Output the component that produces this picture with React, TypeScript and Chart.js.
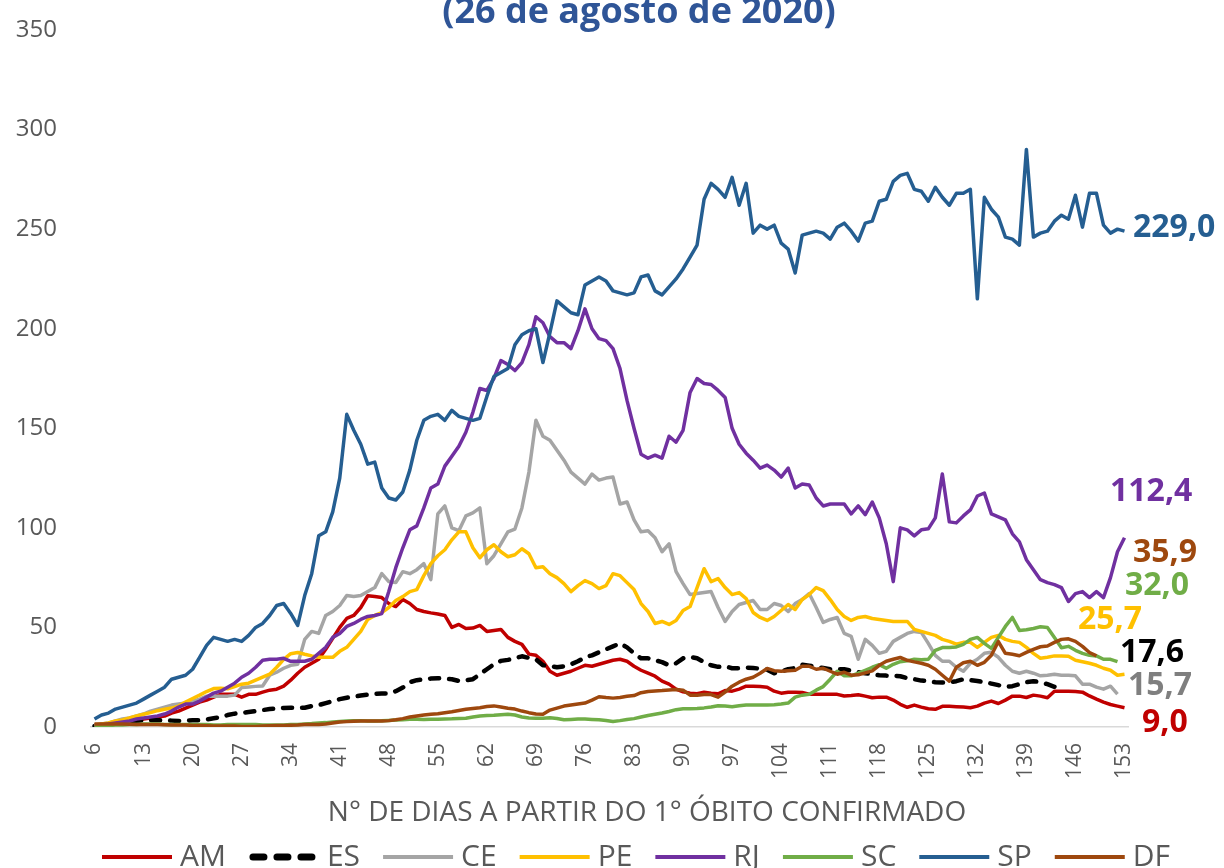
import React, { useEffect, useRef } from "react";
import { Chart, registerables } from "chart.js";

Chart.register(...registerables);

const FIRST_DAY = 6;
const LAST_DAY = 153;
const TICK_STEP = 7;
const days: string[] = [];
for (let d = FIRST_DAY; d <= LAST_DAY; d++) days.push(String(d));

const Y_MIN = 0;
const Y_MAX = 350;
const Y_STEP = 50;

const AM = [0.5, 1, 1.5, 2, 2.5, 3, 3.5, 4, 4.5, 5, 5.5, 7, 8, 9.5, 11, 12.5, 13.5, 15, 16.4, 16.4, 16.4, 15, 16.4, 16.4, 17.5, 18.5, 19, 20.5, 23.5, 27, 30, 32, 34, 39, 44.5, 50, 54.5, 56, 60, 65.9, 65.5, 65, 62, 60.5, 64, 62, 59, 58, 57.3, 56.7, 56, 50, 51.5, 49.5, 49.7, 51, 48, 48.5, 49, 45, 43, 41.5, 36.6, 36, 33, 28, 26, 27, 28, 29.5, 31, 30.5, 31.5, 32.5, 33.5, 34, 33, 30.5, 28.5, 27, 25.5, 23, 21.5, 19, 17.7, 17, 16.7, 17.5, 17, 16.7, 18.3, 18, 19, 20.5, 20.5, 20.3, 20, 18, 17, 17.5, 17.5, 17.3, 16.5, 16.4, 16.4, 16.4, 16.4, 15.6, 15.8, 16.2, 15.5, 14.7, 15, 15, 13.5, 11.4, 9.9, 11, 10, 9.2, 8.9, 10.4, 10.4, 10.2, 10, 9.7, 10.5, 12, 13, 11.8, 13.5, 15.5, 15.5, 14.8, 16, 15.5, 14.7, 18, 18, 18, 17.8, 17.5, 15.6, 14, 12.5, 11.3, 10.5, 9.7];
const ES = [0.5, 1, 1.5, 2, 2.2, 2.5, 3, 3.4, 3.4, 3.4, 3.4, 3.2, 3, 3.2, 3.4, 3.4, 3.8, 4.4, 5, 6, 6.7, 7, 7.5, 8, 8.5, 9, 9.3, 9.6, 9.7, 9.7, 9.7, 10.5, 11, 12, 13, 14, 14.7, 15.2, 15.8, 16.3, 16.6, 16.8, 16.8, 18, 19.8, 22.5, 23.5, 24, 24.3, 24.5, 24.2, 24, 23.1, 23.5, 24, 26.5, 29, 31.5, 33.2, 33.7, 34.5, 35.5, 34.7, 34, 31, 30.7, 30, 30.5, 31.5, 33, 35, 36, 37.5, 39, 40.5, 42, 40, 37, 34.5, 34.5, 33.5, 32.6, 31, 32, 34.5, 35.2, 34.5, 32.6, 31, 30.2, 30.5, 29.5, 29.5, 29.8, 29.6, 29.3, 28.8, 27, 27.8, 29, 29.6, 31.3, 30.8, 30.2, 29.6, 29, 29, 29, 28.3, 27.5, 27, 26.5, 26, 25.8, 25.7, 25.5, 24.5, 24, 23.3, 23, 22.5, 22.3, 22.5, 23, 24, 23.5, 23.1, 22.5, 21.8, 21, 20.2, 20.5, 21.5, 22.5, 23, 22.5, 21.5, 20.2, 18.5, null, null, null, null, null, null, null, null, null];
const CE = [1, 1.5, 2, 3, 4, 4.5, 5.5, 6.5, 8, 9, 10, 11, 11.5, 12, 13, 14, 15.5, 15.5, 15.5, 15.5, 16, 19.8, 20.1, 20.4, 20.6, 26, 27.5, 29.5, 31, 31.5, 44, 48, 47, 56, 58, 61, 66, 65.5, 66, 68, 70, 77, 73, 72.6, 78, 77, 79, 82, 74, 107, 111, 100, 98.6, 106, 107.5, 110, 82, 86, 92, 98, 99.4, 110, 128, 154, 146, 144, 139, 134, 128, 125, 122, 127, 124, 125, 125.5, 112, 113, 104, 98, 98.5, 95, 88, 92, 78, 72, 66.5, 67, 67.5, 68, 60, 53, 58, 61.5, 62.5, 63.5, 59, 59, 62, 61, 58, 62, 64, 67, 60, 52.5, 54, 55, 47, 45.5, 34, 44, 41, 37, 38, 43, 45, 47, 48, 47.5, 42, 36, 33, 33, 30, 28, 32, 34, 37, 37.5, 35, 31, 28, 27, 28, 27, 25.7, 26, 26.5, 26, 26, 25.7, 21.5, 21.5, 20, 19, 20.5, 16.5, null];
const PE = [1, 1.5, 2, 3, 3.5, 4.5, 5.5, 6.4, 7.2, 8.2, 8.9, 9.5, 10.5, 12.5, 14.3, 16, 17.8, 19.3, 19.5, 19.2, 20.3, 21.5, 22, 23.5, 25, 26.5, 30, 34, 36.8, 37.4, 36.5, 35.7, 35, 35, 35, 38, 40, 44, 48, 54, 56, 57.5, 60, 63.5, 65.5, 68, 69, 76, 82, 86, 89, 94, 98, 98, 90, 85, 89, 91.5, 88, 85.5, 86.5, 89.5, 87, 80, 80.5, 77, 75, 72, 68, 71, 73.5, 72, 69.5, 71, 77, 76, 72.5, 69, 62, 58, 52, 53, 51.5, 53.5, 58.5, 60.5, 70, 79.5, 73, 74.5, 70, 66.5, 67.5, 64.5, 57.5, 55, 53.5, 55.5, 58.5, 61.5, 59, 64, 66.5, 70, 68.5, 64, 59, 55.5, 53.5, 55, 55.5, 54.5, 54, 53.5, 53, 53, 53, 49, 48, 47, 46, 44, 43, 41.6, 42.5, 42.5, 40, 42.5, 45, 46, 44, 43, 42.5, 40, 37, 34.5, 35, 35.7, 35.7, 35.5, 33.5, 32.8, 32, 31, 29.5, 28.5, 26, 26.5];
const RJ = [1, 1, 1.5, 2, 2.5, 3, 4, 4.5, 5, 5.5, 6.5, 8, 10, 11.5, 11.5, 13, 15, 17, 18, 20, 22, 25, 27, 30, 33.5, 34, 34, 34.5, 33, 33, 33, 34, 37, 40, 45, 47, 50.5, 52, 54, 55.5, 56, 57, 68, 80, 90, 99, 101, 110, 120, 122, 131, 136, 141, 148, 158, 170, 169, 175, 184, 182, 179, 183, 192, 206, 203, 196, 193, 193, 190, 199, 210, 200, 195, 194, 190, 180, 164, 150, 137, 135, 136.5, 135, 146, 143, 149, 168, 175, 172.5, 172, 169, 165.5, 150, 142, 137.5, 134, 130, 131.5, 129, 125.5, 130, 120, 122, 121.5, 115, 111, 112, 112, 112, 107, 111, 106.6, 113, 105, 92, 73, 100, 99, 96, 99, 99.5, 105, 127, 103, 102.5, 106, 109, 116, 117.5, 107, 105.5, 104, 97, 93, 84, 79, 74, 72.5, 71.5, 70, 63, 67, 68, 65, 68, 65, 75, 88, 95];
const SC = [0.3, 0.5, 0.7, 1, 1, 1.2, 1.3, 1.5, 1.5, 1.5, 1.3, 1.2, 1.2, 1.2, 1.3, 1.3, 1.2, 1, 1, 1.2, 1.3, 1.3, 1.2, 1.2, 1, 1, 1, 1, 1.2, 1.3, 1.5, 1.7, 2, 2.2, 2.5, 2.8, 3, 3.2, 3.2, 3, 3, 3.1, 3.3, 3.5, 3.7, 3.9, 3.9, 3.8, 3.9, 3.9, 4, 4.1, 4.3, 4.4, 5, 5.5, 5.8, 5.9, 6.2, 6.4, 6, 5, 4.5, 4.4, 4.4, 4.6, 4.3, 3.6, 3.8, 4, 4, 3.8, 3.6, 3.3, 2.8, 3.2, 3.8, 4.2, 5, 5.8, 6.4, 7, 7.8, 8.7, 9.2, 9.2, 9.3, 9.6, 10, 10.7, 10.5, 10.2, 10.7, 11.1, 11, 11.1, 11.1, 11.2, 11.5, 12, 15, 16, 16.4, 18.5, 20.3, 24, 28, 25.7, 25.7, 27, 28.5, 30, 31.3, 29.5, 31.5, 32.8, 33.2, 34, 33.8, 34, 38.5, 39.9, 39.9, 40.2, 41.5, 44, 45, 42, 39.5, 45, 50.5, 55, 48.5, 48.8, 49.5, 50.3, 50, 45, 39.8, 40.5, 38.5, 37, 36, 35.7, 34, 34, 32.8, null];
const SP = [4, 6, 7, 9, 10, 11, 12, 14, 16, 18, 20, 24, 25, 26, 29, 35, 41, 45, 44, 43, 44, 43, 46, 50, 52, 56, 61, 62, 57, 51, 66, 77, 96, 98, 108, 125, 157, 149, 142, 132, 133, 120, 115, 114, 118, 129, 144, 154, 156, 157, 154, 159, 156, 155, 154, 155, 166, 176, 178, 180, 192, 197, 199, 200, 183, 198, 214, 211, 208, 207, 222, 224, 226, 224, 219, 218, 217, 218, 226, 227, 219, 217, 221, 225, 230, 236, 242, 265, 273, 270, 266, 276, 262, 273, 248, 252, 250, 252, 243, 240, 228, 247, 248, 249, 248, 245, 251, 253, 249, 244, 253, 254, 264, 265, 274, 277, 278, 270, 269, 264, 271, 266, 262, 268, 268, 270, 215, 266, 260, 256, 246, 245, 242, 290, 246, 248, 249, 254, 257, 255, 267, 251, 268, 268, 252, 248, 250, 249];
const DF = [1.5, 1.5, 1.5, 1.5, 1.5, 1.4, 1.3, 1.3, 1.2, 1.2, 1.1, 1, 1, 1, 0.8, 0.7, 0.6, 0.5, 0.5, 0.5, 0.5, 0.3, 0.3, 0.3, 0.5, 0.6, 0.7, 0.8, 0.9, 1, 1.2, 1.3, 1.3, 1.5, 2, 2.5, 2.7, 2.9, 3, 3, 3, 3, 3.2, 3.6, 4.2, 5, 5.5, 6, 6.4, 6.7, 7.2, 7.7, 8.3, 8.9, 9.3, 9.7, 10.3, 10.6, 10, 9.4, 9, 8, 7.2, 6.5, 6.4, 8.5, 9.5, 10.5, 11, 11.5, 12, 13.5, 15.2, 14.8, 14.5, 14.8, 15.4, 15.8, 17.2, 17.8, 18.1, 18.3, 18.6, 18.8, 18.5, 16, 16, 16.3, 16.3, 15, 17.5, 20.5, 22.5, 24, 25, 27, 29.4, 28.3, 28, 28.3, 28.5, 30.5, 30.5, 29, 29.5, 28, 26.5, 27.5, 26, 26.2, 27.2, 28.2, 31, 33, 34, 34.9, 33.5, 32.7, 32, 31, 29, 26, 23, 30, 32.3, 33, 31, 32.5, 36, 42.9, 37, 36.5, 35.8, 37.5, 39, 40.3, 40.7, 42.5, 44, 44.3, 43, 40.5, 37.4, 35.7, null, null, null, null];

const titleText = "(26 de agosto de 2020)";
const xAxisTitle = "N° DE DIAS A PARTIR DO 1° ÓBITO CONFIRMADO";

const seriesNames = ["AM", "ES", "CE", "PE", "RJ", "SC", "SP", "DF"];
const seriesData = [AM, ES, CE, PE, RJ, SC, SP, DF];
const seriesColors = ["#C00000", "#000000", "#A5A5A5", "#FFC000", "#7030A0", "#70AD47", "#255E91", "#9E480E"];
const endLabels = ["9,0", "17,6", "15,7", "25,7", "112,4", "32,0", "229,0", "35,9"];
const endLabelColors = ["#C00000", "#000000", "#7F7F7F", "#FFC000", "#7030A0", "#70AD47", "#255E91", "#9E480E"];
const endLabelAnchor = [2, 37, 20.5, 54, 118, 71, 250.5, 87.5];
const endLabelDx = [14, -8, 0, -50, -18, -3, 5, 5];

const FONT = '"Open Sans", "Noto Sans", sans-serif';
const GRAY_TEXT = "#595959";
const PLOT_TOP = 30;
const PLOT_BOTTOM = 727;
const PLOT_LEFT = 91;
const PLOT_RIGHT = 1128;

const overlayPlugin = {
  id: "overlay",
  afterDraw(chart: any) {
    const { ctx, chartArea, scales } = chart;
    ctx.save();
    ctx.fillStyle = "#2F5597";
    ctx.font = `bold 36px ${FONT}`;
    ctx.textAlign = "center";
    ctx.textBaseline = "alphabetic";
    ctx.fillText(titleText, 639, 23);

    ctx.fillStyle = GRAY_TEXT;
    ctx.font = `28px ${FONT}`;
    ctx.textBaseline = "middle";
    ctx.fillText(xAxisTitle, 647, 813);

    ctx.font = `bold 32px ${FONT}`;
    ctx.textAlign = "left";
    endLabels.forEach((t, i) => {
      ctx.fillStyle = endLabelColors[i];
      ctx.fillText(t, chartArea.right + endLabelDx[i], scales.y.getPixelForValue(endLabelAnchor[i]));
    });

    let x = 102;
    const y = 857;
    ctx.font = `30px ${FONT}`;
    chart.data.datasets.forEach((ds: any) => {
      const dashed = ds.borderDash && ds.borderDash.length;
      ctx.save();
      ctx.strokeStyle = ds.borderColor;
      ctx.lineCap = dashed ? "round" : "butt";
      ctx.lineWidth = dashed ? 7 : 4;
      ctx.setLineDash(dashed ? [11, 13] : []);
      ctx.beginPath();
      if (dashed) {
        ctx.moveTo(x + 4, y);
        ctx.lineTo(x + 66, y);
      } else {
        ctx.moveTo(x, y);
        ctx.lineTo(x + 70, y);
      }
      ctx.stroke();
      ctx.restore();
      ctx.fillStyle = GRAY_TEXT;
      ctx.textAlign = "left";
      ctx.textBaseline = "middle";
      ctx.fillText(ds.label, x + 78, y);
      x += 78 + ctx.measureText(ds.label).width + 23;
    });
    ctx.restore();
  },
};

export default function App() {
  const canvasRef = useRef<HTMLCanvasElement | null>(null);

  useEffect(() => {
    document.body.style.margin = "0";
    const canvas = canvasRef.current;
    if (!canvas) return;
    const n = seriesNames.length;
    const chart = new Chart(canvas, {
      type: "line",
      data: {
        labels: days,
        datasets: seriesNames.map((name, i) => ({
          label: name,
          data: seriesData[i],
          borderColor: seriesColors[i],
          backgroundColor: seriesColors[i],
          borderWidth: name === "ES" ? 4.5 : 3.5,
          borderDash: name === "ES" ? [9, 10] : [],
          borderCapStyle: name === "ES" ? "round" : "butt",
          borderJoinStyle: "round",
          pointRadius: 0,
          pointHoverRadius: 0,
          tension: 0,
          spanGaps: false,
          order: n - i,
        })),
      },
      options: {
        responsive: true,
        maintainAspectRatio: false,
        animation: false,
        events: [],
        layout: { padding: { top: PLOT_TOP, right: 1224 - PLOT_RIGHT, left: 0, bottom: 0 } },
        plugins: {
          legend: { display: false },
          title: { display: false },
          tooltip: { enabled: false },
        },
        scales: {
          x: {
            type: "category",
            offset: true,
            grid: { display: false },
            border: { display: true, color: "#D9D9D9", width: 1.5 },
            ticks: {
              autoSkip: false,
              maxRotation: 90,
              minRotation: 90,
              color: GRAY_TEXT,
              padding: 8,
              font: { family: FONT, size: 21 },
              callback: (_v: any, i: number) => (i % TICK_STEP === 0 ? days[i] : ""),
            },
            afterFit: (scale: any) => {
              scale.height = 868 - PLOT_BOTTOM;
            },
          },
          y: {
            min: Y_MIN,
            max: Y_MAX,
            grid: { display: false },
            border: { display: false },
            ticks: {
              stepSize: Y_STEP,
              color: GRAY_TEXT,
              padding: 26,
              font: { family: FONT, size: 24 },
            },
            afterFit: (scale: any) => {
              scale.width = PLOT_LEFT;
              // keep the label overflow from pushing the plot area down
              scale.paddingTop = 0;
              scale.paddingBottom = 0;
            },
          },
        },
      },
      plugins: [overlayPlugin],
    });
    return () => chart.destroy();
  }, []);

  return (
    <div style={{ width: 1224, height: 868, position: "relative", background: "#fff" }}>
      <canvas ref={canvasRef} />
    </div>
  );
}
